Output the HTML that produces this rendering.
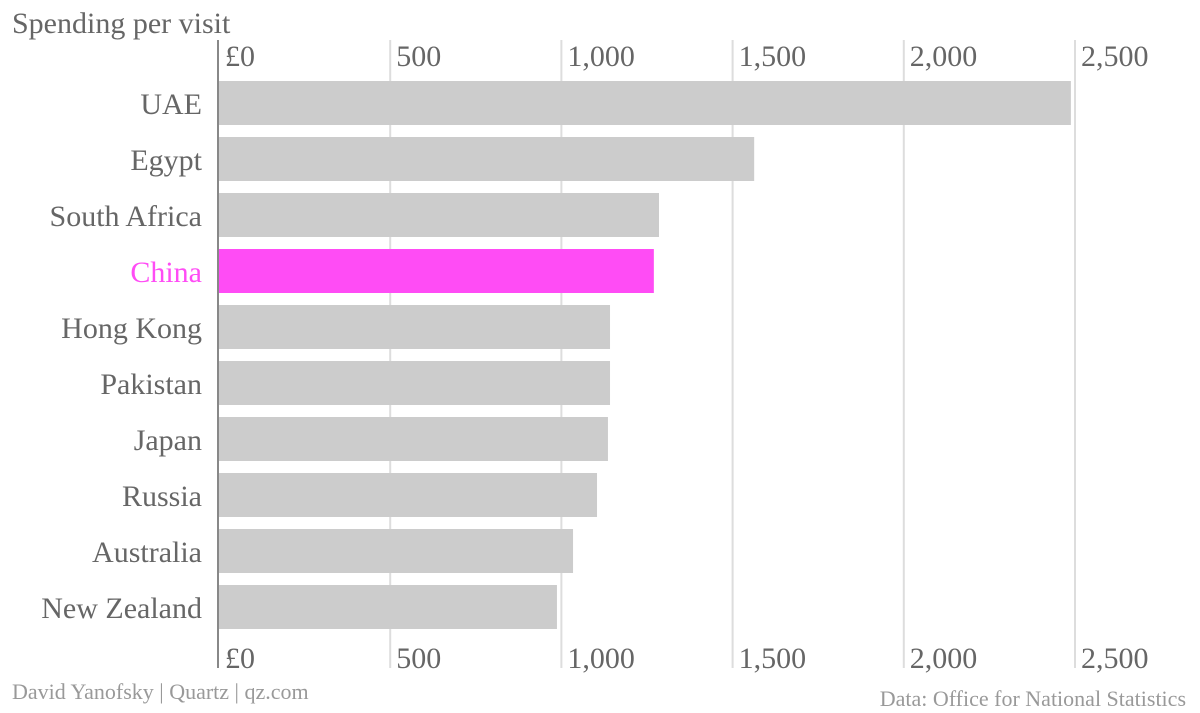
<!DOCTYPE html>
<html><head><meta charset="utf-8">
<style>
html,body{margin:0;padding:0;background:#fff;}
svg{display:block;font-family:"Liberation Serif",serif;}
</style></head>
<body>
<svg id="chart" width="1200" height="713">
<text x="12" y="33" font-size="30" fill="#666">Spending per visit</text>
<g id="grid"></g>
<g id="bars"></g>
<line x1="218" y1="40" x2="218" y2="668" stroke="#888" stroke-width="2"/>
<text x="12" y="699" font-size="22" fill="#999">David Yanofsky | Quartz | qz.com</text>
<text x="1186" y="706" font-size="22" fill="#999" text-anchor="end">Data: Office for National Statistics</text>
</svg>
<script>
const categories=["UAE","Egypt","South Africa","China","Hong Kong","Pakistan","Japan","Russia","Australia","New Zealand"];
const values=[2488,1563,1285,1270,1142,1142,1136,1104,1034,987];
const highlight=["China"];
const ticks=[0,500,1000,1500,2000,2500];
const tickLabels=["£0","500","1,000","1,500","2,000","2,500"];
const NS="http://www.w3.org/2000/svg";
const x0=219,pxPer=171.2/500;
function xs(v){return x0+v*pxPer;}
function ys(i){return 81+i*56;}
const grid=document.getElementById('grid'),bars=document.getElementById('bars');
function mk(tag,attrs,parent){const e=document.createElementNS(NS,tag);for(const k in attrs)e.setAttribute(k,attrs[k]);parent.appendChild(e);return e;}
ticks.forEach((t,i)=>{
  const x=xs(t);
  if(i>0){const l=mk('line',{x1:x,y1:40,x2:x,y2:668,stroke:'#ddd','stroke-width':2},grid);
  
  }
  [66,668].forEach((y,j)=>{
    const tx=mk('text',{x:x+6,y:y,'font-size':30,fill:'#666'},grid);
    tx.textContent=tickLabels[i];
    
    
  });
});
categories.forEach((c,i)=>{
  const hi=highlight.includes(c);
  const r=mk('rect',{x:x0,y:ys(i),width:xs(values[i])-x0,height:44,fill:hi?'#ff4cf5':'#cccccc'},bars);
  
  
  const t=mk('text',{x:202,y:ys(i)+33,'font-size':30,fill:hi?'#ff4cf5':'#666','text-anchor':'end'},bars);
  t.textContent=c;
  
  
});
</script>
</body></html>
